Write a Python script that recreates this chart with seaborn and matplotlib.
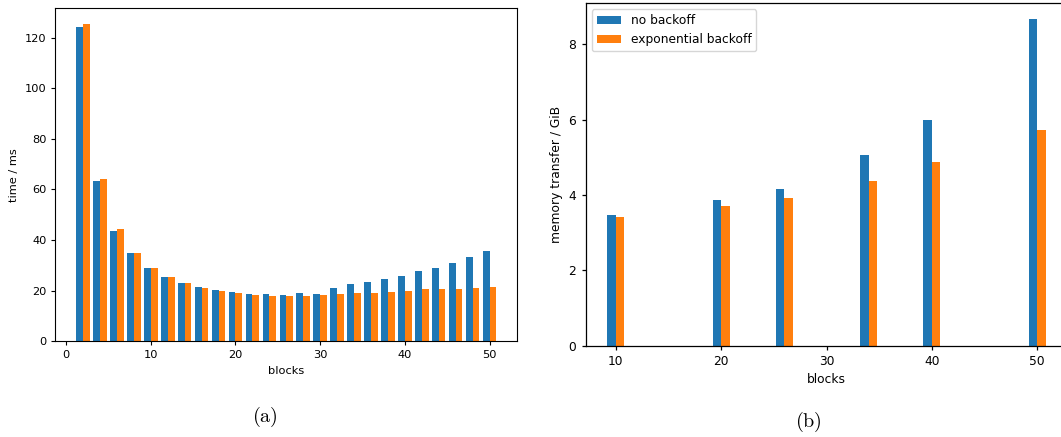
import numpy as np
import pandas as pd
import matplotlib
matplotlib.use("Agg")
import matplotlib.pyplot as plt
import seaborn as sns

# (a) kernel time per block count
blocks_a = list(range(2, 52, 2))
time_no_backoff = [124.1, 63.5, 43.7, 34.7, 29.0, 25.5, 23.0, 21.4, 20.2, 19.4,
                   18.6, 18.6, 18.2, 19.0, 18.6, 21.0, 22.6, 23.4, 24.6, 25.7,
                   27.7, 28.9, 30.9, 33.3, 35.6]
time_exp_backoff = [125.3, 64.3, 44.5, 34.7, 29.0, 25.5, 23.0, 21.0, 19.8, 19.0,
                    18.2, 17.8, 17.8, 17.8, 18.2, 18.6, 19.0, 19.0, 19.4, 19.8,
                    20.6, 20.6, 20.6, 21.0, 21.4]

# (b) memory transfer per block count
blocks_b = [10, 20, 26, 34, 40, 50]
mem_no_backoff = [3.47, 3.87, 4.16, 5.06, 5.99, 8.67]
mem_exp_backoff = [3.42, 3.71, 3.92, 4.37, 4.88, 5.73]

series_names = ["no backoff", "exponential backoff"]
palette = ["#1f77b4", "#ff7f0e"]


def long_table(x, a, b):
    return pd.DataFrame({
        "blocks": list(x) * 2,
        "value": list(a) + list(b),
        "series": [series_names[0]] * len(x) + [series_names[1]] * len(x),
    })


df_a = long_table(blocks_a, time_no_backoff, time_exp_backoff)
df_b = long_table(blocks_b, mem_no_backoff, mem_exp_backoff)

W, H = 1061, 437
fig = plt.figure(figsize=(W / 100, H / 100), dpi=100)


def style_axes(ax, fs, tick_len, lw):
    ax.tick_params(labelsize=fs, length=tick_len, width=lw)
    for s in ax.spines.values():
        s.set_linewidth(lw)


# left panel
ax1 = fig.add_axes([55.3 / W, 1 - 341.3 / H, (517.3 - 55.3) / W, (341.3 - 8.3) / H])
sns.barplot(data=df_a, x="blocks", y="value", hue="series", hue_order=series_names,
            palette=palette, native_scale=True, width=0.8, gap=0, saturation=1,
            linewidth=0, errorbar=None, legend=False, ax=ax1)
ax1.set_xlabel("blocks", fontsize=8.2)
ax1.set_ylabel("time / ms", fontsize=8.2)
ax1.set_xlim(-1.28, 53.28)
ax1.set_ylim(0, 131.6)
ax1.set_xticks([0, 10, 20, 30, 40, 50])
ax1.set_yticks([0, 20, 40, 60, 80, 100, 120])
style_axes(ax1, 8.2, 2.9, 0.8)

# right panel (extends slightly past the figure edge)
ax2 = fig.add_axes([585.5 / W, 1 - 345.7 / H, (1067.6 - 585.5) / W, (345.7 - 3.3) / H])
sns.barplot(data=df_b, x="blocks", y="value", hue="series", hue_order=series_names,
            palette=palette, native_scale=True, width=1.6 / 6, gap=0, saturation=1,
            linewidth=0, errorbar=None, ax=ax2)
ax2.set_xlabel("blocks", fontsize=8.8)
ax2.set_ylabel("memory transfer / GiB", fontsize=8.8)
ax2.set_xlim(7.12, 52.88)
ax2.set_ylim(0, 9.09)
ax2.set_xticks([10, 20, 30, 40, 50])
ax2.set_yticks([0, 2, 4, 6, 8])
style_axes(ax2, 8.8, 3.1, 0.9)
sns.move_legend(ax2, "upper left", title=None, fontsize=8.8, borderaxespad=0.5)

# sub-figure captions
plt.rcParams["mathtext.fontset"] = "cm"
fig.text(265 / W, 1 - 416.5 / H, r"$\mathrm{(a)}$", ha="center", va="center", fontsize=14.5)
fig.text(808 / W, 1 - 422 / H, r"$\mathrm{(b)}$", ha="center", va="center", fontsize=14.5)

fig.savefig("out.png", dpi=100)
